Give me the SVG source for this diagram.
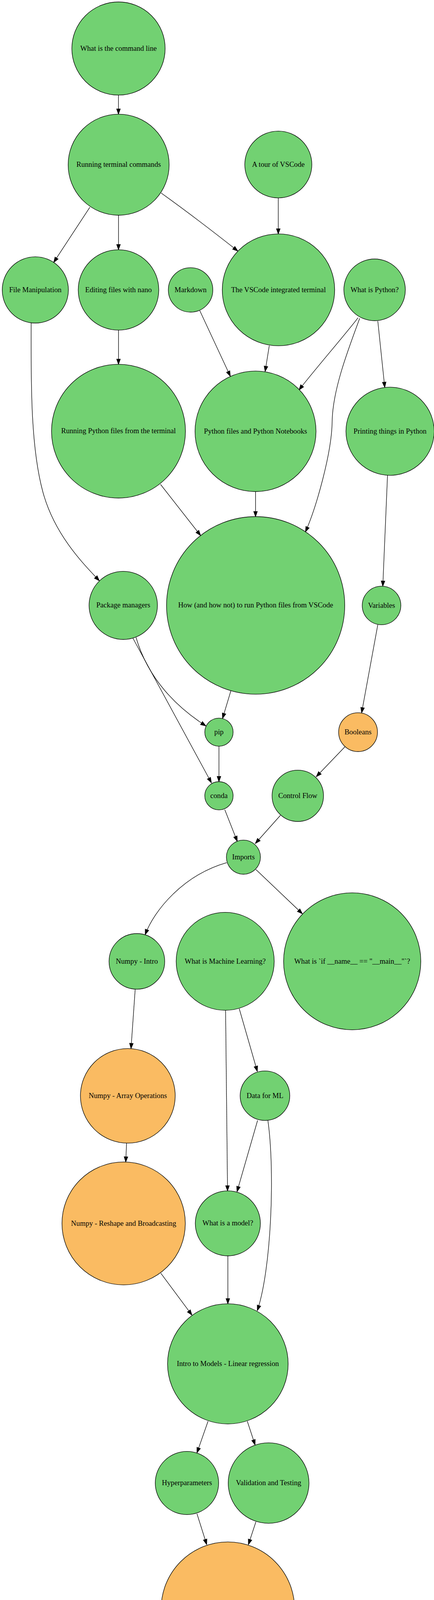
<svg xmlns="http://www.w3.org/2000/svg" width="1112" height="4292" viewBox="0 0 1112 4292">
<style>
.g ellipse{fill:#72d172;stroke:#000;stroke-width:1.33}
.o ellipse{fill:#fabb62;stroke:#000;stroke-width:1.33}
text{font-family:"Liberation Serif","Times New Roman",serif;font-size:18.67px;fill:#000;text-anchor:middle}
#edges path{fill:none;stroke:#000;stroke-width:1.33;marker-end:url(#ah)}
</style>
<defs>
<marker id="ah" markerUnits="userSpaceOnUse" markerWidth="16" markerHeight="12" refX="13.33" refY="4.67" orient="auto" overflow="visible">
<path d="M0,0 L13.33,4.67 L0,9.33 Z" fill="#000" stroke="#000" stroke-width="1.33"/>
</marker>
</defs>
<rect width="1112" height="4292" fill="#fff"/>
<g id="edges">
<path d="M303.5,243.5 L303.5,292.3"/>
<path d="M230.2,530.7 L137.6,671.7"/>
<path d="M303.6,551 L303.6,639.3"/>
<path d="M412.7,494 C480,542 545,592 609.4,642.7"/>
<path d="M713,506.7 L713,599"/>
<path d="M79.8,827 C79,1000 80,1150 110,1260 C140,1370 215,1445 254.5,1486.7"/>
<path d="M303.6,845 L303.6,932.7"/>
<path d="M511.8,795 L590.2,963.3"/>
<path d="M690,884.7 L679.3,951"/>
<path d="M917.4,813.3 C898,840 795,960 766.2,998.3"/>
<path d="M921.6,815 C890,900 852,1000 851,1080 C850,1160 810,1300 782.6,1361.7"/>
<path d="M968,821.7 L985.8,991.7"/>
<path d="M411.3,1240 L514,1371"/>
<path d="M654.7,1258.3 L654.7,1322.7"/>
<path d="M992.9,1216.7 L980.8,1500.7"/>
<path d="M348.5,1631.7 C380,1740 455,1812 527.5,1858.3"/>
<path d="M591.6,1768.3 L570.2,1839.3"/>
<path d="M968,1599.3 L926.6,1824.7"/>
<path d="M561,1910.3 L561,2001"/>
<path d="M340,1632.7 L541.7,2004"/>
<path d="M883.8,1911.7 L810.4,1988.3"/>
<path d="M575.9,2072.7 L608,2154"/>
<path d="M718.5,2087.3 L654.3,2159.3"/>
<path d="M580.9,2208.3 C470,2240 395,2330 372,2392.7"/>
<path d="M655.7,2226 L774.8,2339.3"/>
<path d="M346.4,2532.3 L335.7,2684.3"/>
<path d="M578,2586.3 L583,3048.7"/>
<path d="M613,2582.3 L659.3,2742.7"/>
<path d="M324.3,2926.3 L322.2,2974.7"/>
<path d="M660,2868.3 L607.3,3050.7"/>
<path d="M686.4,2868.3 C705,3000 695,3250 659.3,3355"/>
<path d="M412,3259.3 L491.8,3366.7"/>
<path d="M583.8,3215 L583.8,3337.7"/>
<path d="M533.1,3638.3 L504.6,3719.3"/>
<path d="M633.6,3638.3 L653.6,3699"/>
<path d="M504.6,3875 L529.6,3954"/>
<path d="M655.7,3895.7 L636.5,3954"/>
</g>
<g id="n_cmdline" class="g"><ellipse cx="303.6" cy="124.2" rx="119.5" ry="119.2"/><text x="303.6" y="129.8">What is the command line</text></g>
<g id="n_running" class="g"><ellipse cx="304" cy="421.7" rx="129.4" ry="129.3"/><text x="304" y="427.3">Running terminal commands</text></g>
<g id="n_tour" class="g"><ellipse cx="713.1" cy="421.2" rx="85.9" ry="85.5"/><text x="713.1" y="426.8">A tour of VSCode</text></g>
<g id="n_filemanip" class="g"><ellipse cx="90.5" cy="742.2" rx="84.8" ry="84.8"/><text x="90.5" y="747.8">File Manipulation</text></g>
<g id="n_nano" class="g"><ellipse cx="303.6" cy="742.2" rx="103.2" ry="102.9"/><text x="303.6" y="747.8">Editing files with nano</text></g>
<g id="n_markdown" class="g"><ellipse cx="488.3" cy="742.2" rx="57" ry="56.8"/><text x="488.3" y="747.8">Markdown</text></g>
<g id="n_vsterm" class="g"><ellipse cx="713.5" cy="742" rx="144" ry="143.2"/><text x="713.5" y="747.6">The VSCode integrated terminal</text></g>
<g id="n_whatpython" class="g"><ellipse cx="959.8" cy="742" rx="78.8" ry="79"/><text x="959.8" y="747.6">What is Python?</text></g>
<g id="n_runpy" class="g"><ellipse cx="303.6" cy="1103.8" rx="171.6" ry="171.2"/><text x="303.6" y="1109.4">Running Python files from the terminal</text></g>
<g id="n_pyfiles" class="g"><ellipse cx="654.7" cy="1104.2" rx="155" ry="154.3"/><text x="654.7" y="1109.8">Python files and Python Notebooks</text></g>
<g id="n_printing" class="g"><ellipse cx="999.4" cy="1104" rx="113" ry="112.8"/><text x="999.4" y="1109.6">Printing things in Python</text></g>
<g id="n_howrun" class="g"><ellipse cx="655" cy="1549.8" rx="228.3" ry="227.3"/><text x="655" y="1555.4">How (and how not) to run Python files from VSCode</text></g>
<g id="n_pkg" class="g"><ellipse cx="315.8" cy="1549.8" rx="87.6" ry="87.2"/><text x="315.8" y="1555.4">Package managers</text></g>
<g id="n_variables" class="g"><ellipse cx="977.6" cy="1550" rx="49.5" ry="49.3"/><text x="977.6" y="1555.6">Variables</text></g>
<g id="n_pip" class="g"><ellipse cx="561" cy="1874.3" rx="36.3" ry="36"/><text x="561" y="1879.9">pip</text></g>
<g id="n_booleans" class="o"><ellipse cx="917.4" cy="1874.3" rx="49.8" ry="49.7"/><text x="917.4" y="1879.9">Booleans</text></g>
<g id="n_conda" class="g"><ellipse cx="561" cy="2037.2" rx="36.3" ry="36.2"/><text x="561" y="2042.8">conda</text></g>
<g id="n_control" class="g"><ellipse cx="763" cy="2037.3" rx="65.9" ry="65.7"/><text x="763" y="2042.9">Control Flow</text></g>
<g id="n_imports" class="g"><ellipse cx="623.7" cy="2194.3" rx="43.6" ry="43.7"/><text x="623.7" y="2199.9">Imports</text></g>
<g id="n_npintro" class="g"><ellipse cx="350.7" cy="2461.2" rx="71.3" ry="71.2"/><text x="350.7" y="2466.8">Numpy - Intro</text></g>
<g id="n_ml" class="g"><ellipse cx="577" cy="2461" rx="125.6" ry="125.3"/><text x="577" y="2466.6">What is Machine Learning?</text></g>
<g id="n_main" class="g"><ellipse cx="902.4" cy="2461" rx="175.8" ry="175.3"/><text x="902.4" y="2466.6">What is `if __name__ == "__main__"`?</text></g>
<g id="n_nparray" class="o"><ellipse cx="327.5" cy="2805.3" rx="121.4" ry="121"/><text x="327.5" y="2810.9">Numpy - Array Operations</text></g>
<g id="n_data" class="g"><ellipse cx="678.9" cy="2805" rx="63.6" ry="63.3"/><text x="678.9" y="2810.6">Data for ML</text></g>
<g id="n_npreshape" class="o"><ellipse cx="316.8" cy="3132" rx="158" ry="157.3"/><text x="316.8" y="3137.6">Numpy - Reshape and Broadcasting</text></g>
<g id="n_model" class="g"><ellipse cx="583.8" cy="3131.8" rx="83.4" ry="83.2"/><text x="583.8" y="3137.4">What is a model?</text></g>
<g id="n_linreg" class="g"><ellipse cx="583.8" cy="3491.5" rx="154.5" ry="153.8"/><text x="583.8" y="3497.1">Intro to Models - Linear regression</text></g>
<g id="n_hyper" class="g"><ellipse cx="479" cy="3796.5" rx="81.2" ry="80.8"/><text x="479" y="3802.1">Hyperparameters</text></g>
<g id="n_valid" class="g"><ellipse cx="688.2" cy="3796.7" rx="103.5" ry="103"/><text x="688.2" y="3802.3">Validation and Testing</text></g>
<g id="n_grid" class="o"><ellipse cx="583.8" cy="4119" rx="171" ry="171.6"/><text x="583.8" y="4124.6">Grid Search &amp; K-fold Cross Validation</text></g>
</svg>
